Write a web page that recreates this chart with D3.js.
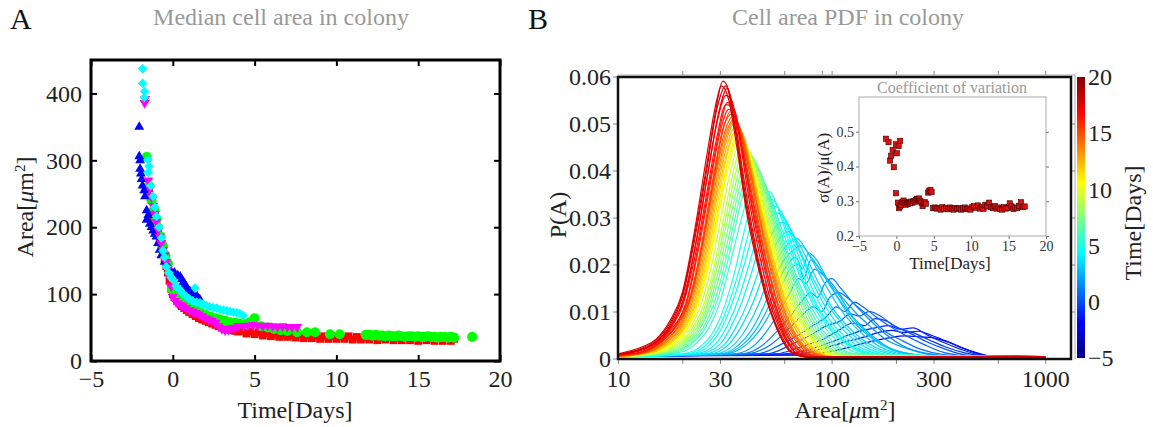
<!DOCTYPE html>
<html>
<head>
<meta charset="utf-8">
<script src="https://cdn.jsdelivr.net/npm/d3@7"></script>
<style>
body { margin: 0; background: #fff; }
svg { display: block; font-family: "Liberation Serif", "DejaVu Serif", serif; }
</style>
</head>
<body>
<svg id="fig" width="1153" height="427"></svg>
<script>
// ---- Panel A: median cell area, five colonies ----
const redT = [-1.45,-1.35,-1.3,-1.2,-1.1,-1.0,-0.9,-0.8,-0.7,-0.6,-0.5,-0.4,-0.3,-0.2,-0.1,0.0,0.1,0.25,0.4,0.55,0.7,0.85,1.0,1.2,1.4,1.6,1.8,2.0,2.2,2.4,2.6,2.8,3.0,3.2,3.4,3.6,3.8,4.0,4.25,4.5,4.75,5.0,5.25,5.5,5.75,6.0,6.25,6.5,6.75,7.0,7.25,7.5,7.75,8.0,8.25,8.5,8.75,9.0,9.25,9.5,9.75,10.0,10.25,10.5,10.75,11.0,11.25,11.5,11.75,12.0,12.25,12.5,12.75,13.0,13.25,13.5,13.75,14.0,14.25,14.5,14.75,15.0,15.25,15.5,15.75,16.0,16.25,16.5,16.75,17.0,17.2];
const redA = [258,245,212,220,225,205,195,182,175,165,152,142,132,120,108,100,95,90,86,82,79,76,73,70,67,64,62,60,58,56,54,52,50,49,47,46,45,44,45,41,44,40,43,38,42,37,41,36,40,36,39,35,39,34,38,34,38,33,37,33,37,33,36,33,37,32,36,32,36,32,36,31,35,32,36,31,35,31,35,31,35,30,35,31,34,30,34,30,34,30,33];

const greenT = [-1.6,-1.45,-1.3,-1.15,-1.0,-0.9,-0.75,-0.6,-0.45,-0.3,-0.15,-0.05,0.1,0.3,0.5,0.8,1.1,1.4,1.7,2.0,2.3,2.6,2.9,3.2,3.5,3.8,4.1,4.4,4.7,5.0,5.4,5.8,6.2,6.6,7.0,7.6,8.2,8.7,9.6,10.2,11.8,12.0,12.2,12.4,12.6,12.8,13.0,13.2,13.4,13.6,13.8,14.0,14.2,14.4,14.6,14.8,15.0,15.2,15.4,15.6,15.8,16.0,16.2,16.4,16.6,16.8,17.0,17.2,18.3];
const greenA = [305,262,240,226,212,200,186,172,158,146,130,108,100,94,90,84,80,76,72,69,66,64,62,60,58,57,56,55,58,64,52,50,48,46,45,43,43,43,40,40,39,39,38,39,38,38,37,38,37,37,38,37,36,37,37,36,37,36,36,37,36,36,35,36,36,35,36,35,36];

const blueT = [-2.05,-2.05,-2.0,-2.0,-1.95,-1.9,-1.85,-1.75,-1.7,-1.6,-1.6,-1.5,-1.4,-1.3,-1.2,-1.1,-1.0,-0.9,-0.8,-0.7,-0.5,-0.2,0.1,0.3,0.45,0.55,0.65,0.75,0.85,0.95,1.05,1.2,1.35,1.5,1.65];
const blueA = [350,306,300,287,280,272,262,255,246,225,211,218,205,200,195,190,186,176,166,158,148,138,132,128,126,122,118,114,110,106,104,100,98,96,92];

const magT = [-1.72,-1.68,-1.5,-1.4,-1.3,-1.2,-1.1,-1.0,-0.9,-0.8,-0.7,-0.6,-0.5,-0.4,-0.3,-0.2,-0.1,0.0,0.15,0.3,0.45,0.6,0.8,1.0,1.2,1.4,1.6,1.8,2.0,2.2,2.4,2.6,2.8,3.0,3.2,3.4,3.6,3.8,4.0,4.3,4.6,4.9,5.2,5.5,5.8,6.1,6.4,6.7,7.0,7.3,7.6];
const magA = [386,392,270,258,245,232,220,208,196,186,176,166,158,148,138,126,112,96,90,86,84,82,79,76,74,72,70,67,64,62,60,57,52,48,46,47,49,50,52,52,53,54,53,52,53,52,51,52,51,51,51];

const cyanT = [-1.84,-1.84,-1.72,-1.74,-1.5,-1.45,-1.5,-1.35,-1.2,-1.1,-1.0,-0.85,-0.7,-0.6,-0.5,-0.4,-0.25,-0.1,0.03,0.2,0.44,0.6,0.8,1.0,1.2,1.36,1.45,1.66,1.85,2.05,2.25,2.45,2.68,2.9,3.1,3.3,3.5,3.7,3.9,4.1,4.3];
const cyanA = [437,415,403,394,301,291,282,262,246,230,216,200,184,165,155,141,132,125,121,112,106,101,97,93,90,109,88,87,85,83,81,80,79,77,76,75,74,73,72,71,68];

const xTicksA = [-5, 0, 5, 10, 15, 20];
const yTicksA = [0, 100, 200, 300, 400];

// ---- Panel B: area PDF, one curve per time point (days) ----
const pdfTimes = [-2,-1.5,-1,-0.5,0,0.5,1,1.5,2,2.5,3,3.5,4,4.5,5,5.5,6,7,8,9,10,11,12,13,14,15,16,16.5,17,17.5,18,
  17.8,17.2,16.2,15.5,14.5,13.5,12.5,11.5,10.5,9.5,8.5,7.5,6.5,4.75,4.25,3.75,3.25,2.75];
const pdfCurves = [
  [[10,.0005],[70,.0007],[100,.0015],[130,.0028],[160,.0038],[190,.0045],[220,.0048],[260,.0046],[300,.0044],[350,.0035],[410,.0022],[480,.0012],[560,.0005],[1000,.0004]],
  [[10,.0005],[65,.0008],[90,.002],[115,.0035],[140,.0045],[165,.0055],[190,.006],[220,.0055],[255,.0058],[290,.005],[340,.0038],[400,.0025],[470,.0012],[560,.0005],[1000,.0004]],
  [[10,.0005],[60,.001],[80,.002],[100,.0035],[120,.005],[140,.006],[160,.0065],[185,.007],[210,.0062],[240,.0065],[280,.005],[330,.0035],[400,.002],[480,.0009],[600,.0005],[1000,.0004]],
  [[10,.0005],[55,.001],[72,.0025],[90,.004],[108,.006],[125,.0075],[142,.007],[160,.0085],[180,.008],[205,.0065],[240,.0055],[285,.004],[340,.0025],[420,.0012],[550,.0005],[1000,.0004]],
  [[10,.0005],[50,.001],[65,.003],[80,.005],[95,.007],[110,.008],[122,.0095],[135,.009],[150,.010],[170,.009],[195,.007],[230,.0055],[280,.0035],[340,.002],[420,.0008],[550,.0005],[1000,.0004]],
  [[10,.0005],[45,.001],[58,.003],[70,.005],[82,.007],[95,.009],[105,.011],[115,.010],[128,.012],[140,.011],[160,.009],[185,.007],[220,.005],[270,.003],[340,.0012],[450,.0005],[1000,.0004]],
  [[10,.0005],[40,.001],[52,.003],[62,.006],[72,.009],[82,.011],[90,.010],[98,.013],[108,.014],[118,.013],[132,.011],[150,.009],[175,.006],[210,.004],[260,.002],[340,.0008],[450,.0005],[1000,.0004]],
  [[10,.0005],[38,.001],[48,.003],[56,.006],[64,.009],[72,.012],[80,.014],[86,.013],[93,.016],[100,.017],[110,.015],[125,.012],[145,.009],[170,.006],[210,.003],[270,.0012],[380,.0005],[1000,.0004]],
  [[10,.0005],[35,.001],[44,.003],[50,.006],[57,.010],[64,.014],[70,.017],[76,.016],[83,.019],[90,.018],[100,.016],[112,.013],[128,.010],[150,.007],[180,.004],[230,.002],[320,.0006],[1000,.0004]],
  [[10,.0005],[32,.001],[40,.003],[46,.006],[52,.010],[58,.015],[64,.019],[70,.020],[74,.017],[80,.021],[88,.019],[98,.016],[110,.013],[125,.009],[145,.006],[175,.003],[220,.0012],[300,.0005],[1000,.0004]],
  [[10,.0005],[30,.001],[37,.003],[42,.006],[48,.011],[54,.017],[60,.021],[66,.023],[72,.024],[79,.022],[88,.019],[100,.015],[115,.011],[135,.007],[160,.004],[200,.0015],[280,.0005],[1000,.0004]],
  [[10,.0005],[27,.001],[33,.003],[38,.007],[43,.012],[48,.018],[53,.023],[58,.026],[63,.027],[69,.025],[77,.021],[87,.016],[100,.011],[118,.007],[140,.004],[180,.0015],[250,.0005],[1000,.0004]],
  [[10,.0005],[24,.001],[30,.003],[34,.007],[38,.012],[42,.018],[46,.024],[50,.029],[55,.031],[60,.030],[66,.026],[75,.020],[86,.014],[100,.009],[120,.005],[160,.0015],[220,.0005],[1000,.0004]],
  [[10,.0004],[22,.001],[27,.003],[31,.007],[35,.013],[39,.020],[43,.027],[47,.032],[51,.034],[55,.033],[61,.028],[69,.021],[80,.014],[95,.008],[115,.004],[150,.0012],[200,.0004],[1000,.0003]],
  [[10,.0004],[20,.001],[25,.003],[29,.007],[32,.012],[35,.018],[38,.025],[41,.031],[44,.035],[47,.037],[51,.035],[57,.029],[65,.022],[75,.015],[88,.009],[110,.004],[150,.001],[1000,.0003]],
  [[10,.0004],[19,.0012],[23,.003],[27,.007],[30,.012],[33,.019],[36,.026],[39,.032],[42,.037],[45,.039],[49,.037],[55,.030],[62,.023],[72,.015],[85,.009],[105,.004],[140,.001],[1000,.0003]],
  [[10,.0004],[18,.0012],[22,.003],[26,.007],[29,.012],[32,.019],[35,.027],[38,.034],[41,.039],[44,.041],[48,.038],[53,.032],[60,.024],[69,.016],[80,.010],[97,.0045],[130,.001],[1000,.0003]],
  [[10,.0004],[17,.0012],[21,.003],[24,.006],[27,.011],[30,.018],[33,.026],[36,.034],[39,.040],[42,.043],[46,.040],[51,.033],[58,.024],[67,.016],[78,.009],[95,.0035],[125,.0008],[1000,.0003]],
  [[10,.0004],[16,.0012],[20,.003],[23,.006],[26,.011],[29,.019],[32,.028],[35,.036],[38,.042],[41,.044],[45,.040],[50,.033],[57,.023],[65,.015],[76,.008],[92,.003],[120,.0006],[1000,.0003]],
  [[10,.0004],[15,.0012],[19,.003],[22,.006],[25,.011],[28,.019],[31,.029],[34,.038],[37,.044],[40,.045],[44,.040],[49,.032],[56,.022],[64,.014],[75,.007],[90,.0025],[115,.0005],[1000,.0003]],
  [[10,.0004],[15,.0014],[18,.003],[21,.006],[24,.012],[27,.021],[30,.032],[33,.041],[36,.046],[40,.045],[44,.039],[49,.030],[56,.020],[64,.012],[75,.006],[90,.002],[110,.0004],[1000,.0003]],
  [[10,.0004],[15,.0015],[18,.0035],[21,.007],[24,.013],[27,.023],[30,.034],[33,.043],[36,.047],[39,.046],[43,.039],[48,.030],[55,.019],[63,.011],[73,.005],[88,.0015],[110,.0003],[1000,.0003]],
  [[10,.0004],[14,.0012],[17,.003],[20,.006],[23,.012],[26,.022],[29,.034],[32,.043],[35,.048],[38,.048],[42,.041],[47,.031],[54,.020],[62,.011],[72,.005],[86,.0015],[105,.0003],[1000,.0003]],
  [[10,.0005],[14,.0014],[17,.0035],[20,.007],[23,.014],[26,.025],[29,.037],[32,.046],[35,.050],[38,.048],[42,.040],[47,.029],[54,.018],[62,.009],[72,.0035],[86,.001],[100,.0003],[1000,.0003]],
  [[10,.0005],[14,.0015],[17,.004],[20,.008],[23,.016],[26,.028],[29,.040],[32,.048],[35,.051],[38,.048],[42,.039],[47,.028],[53,.018],[61,.009],[71,.0035],[85,.001],[100,.0003],[1000,.0003]],
  [[10,.0006],[13,.0012],[16,.0035],[19,.0075],[22,.014],[25,.026],[28,.039],[31,.049],[34,.052],[37,.049],[41,.040],[46,.028],[52,.017],[60,.008],[70,.003],[82,.0008],[100,.0003],[1000,.0003]],
  [[10,.0006],[13,.0014],[16,.0038],[18,.0065],[21,.012],[24,.024],[27,.037],[30,.048],[33,.053],[36,.050],[40,.040],[45,.028],[50,.018],[57,.009],[65,.0035],[75,.001],[90,.0003],[1000,.0003]],
  [[10,.0007],[13,.0015],[16,.004],[18,.007],[20,.011],[23,.022],[26,.035],[29,.047],[32,.054],[35,.053],[38,.045],[42,.033],[48,.020],[55,.010],[62,.004],[72,.001],[85,.0003],[1000,.0003]],
  [[10,.0008],[13,.0018],[15,.0032],[17.5,.0065],[20,.012],[23,.024],[26,.038],[29,.050],[32,.056],[34,.055],[37,.047],[41,.034],[47,.020],[53,.011],[60,.005],[68,.0012],[80,.0003],[1000,.0003]],
  [[10,.001],[13,.0025],[15,.004],[17.5,.008],[20,.014],[23,.028],[26,.043],[29,.055],[31,.059],[33,.057],[36,.047],[40,.033],[46,.019],[52,.010],[58,.005],[66,.0012],[80,.0003],[1000,.0003]],
  [[10,.0009],[13,.002],[15,.0035],[17.5,.007],[20,.013],[23,.026],[26,.040],[29,.053],[32,.058],[35,.050],[39,.035],[45,.021],[50,.012],[56,.006],[64,.0015],[75,.0004],[1000,.0003]],
  [[10,.0009],[13,.0022],[15,.0038],[17.5,.0075],[20,.0135],[23,.027],[26,.041],[28.5,.052],[30.5,.058],[33,.055],[36,.045],[40,.031],[45,.020],[51,.011],[57,.005],[65,.0013],[78,.0003],[1000,.0003]],
  [[10,.0008],[13,.0019],[15.5,.0038],[18,.0075],[20.5,.013],[23.5,.026],[26.5,.040],[29.5,.052],[32.5,.0575],[35,.052],[38,.041],[42,.029],[47,.018],[53,.010],[60,.0045],[69,.001],[82,.0003],[1000,.0003]],
  [[10,.0006],[13,.0014],[16,.0037],[18.5,.0068],[21,.0125],[24,.025],[27,.038],[30,.049],[32.5,.0545],[35.5,.052],[39,.042],[44,.029],[50,.018],[57,.0085],[65,.0032],[76,.0009],[90,.0003],[1000,.0003]],
  [[10,.0006],[13,.0013],[16,.0036],[19,.0072],[22,.0135],[25,.025],[28,.038],[31,.0485],[33.5,.0525],[36.5,.050],[40,.041],[45,.029],[51,.018],[58,.009],[67,.0032],[79,.0009],[95,.0003],[1000,.0003]],
  [[10,.0005],[13.5,.0013],[16.5,.0037],[19.5,.0075],[22.5,.015],[25.5,.027],[28.5,.039],[31.5,.048],[34.5,.0515],[37.5,.0485],[41.5,.040],[46.5,.0285],[52.5,.0178],[60,.009],[70,.0035],[83,.001],[100,.0003],[1000,.0003]],
  [[10,.0005],[14,.0014],[17,.0037],[20,.0075],[23,.015],[26,.0265],[29,.0385],[32,.047],[35,.0505],[38,.048],[42,.0395],[47,.0285],[53.5,.018],[61.5,.009],[71.5,.0035],[85,.001],[100,.0003],[1000,.0003]],
  [[10,.0004],[14,.0013],[17,.0032],[20,.0065],[23,.013],[26,.0235],[29,.0355],[32,.0445],[35,.049],[38,.048],[42,.0405],[47,.030],[54,.019],[62,.010],[72,.0043],[86,.0012],[103,.0003],[1000,.0003]],
  [[10,.0004],[14.5,.0013],[17.5,.0032],[20.5,.0065],[23.5,.0125],[26.5,.0225],[29.5,.034],[32.5,.0435],[35.5,.0478],[38.5,.047],[42.5,.040],[47.5,.0305],[54.5,.0195],[62.5,.0105],[72.5,.0048],[87,.0014],[108,.0003],[1000,.0003]],
  [[10,.0004],[15,.0014],[18,.0032],[21,.0065],[24,.0125],[27,.022],[30,.033],[33,.042],[36,.0465],[39.5,.0455],[43.5,.039],[48.5,.030],[55.5,.0195],[63.5,.0115],[74,.0055],[89,.0018],[110,.0004],[1000,.0003]],
  [[10,.0003],[15,.0013],[18.5,.003],[21.5,.006],[24.5,.0115],[27.5,.020],[30.5,.0305],[33.5,.0395],[36.5,.045],[40,.045],[44,.0395],[49,.031],[56,.021],[64,.013],[75,.0065],[90,.0022],[112,.0005],[1000,.0003]],
  [[10,.0003],[15.5,.0012],[19.5,.003],[22.5,.006],[25.5,.011],[28.5,.019],[31.5,.0285],[34.5,.037],[37.5,.043],[40.5,.0445],[44.5,.040],[49.5,.0325],[56.5,.0225],[64.5,.0145],[75.5,.0075],[91,.0028],[118,.0006],[1000,.0003]],
  [[10,.0003],[16.5,.0012],[20.5,.003],[23.5,.006],[26.5,.011],[29.5,.0185],[32.5,.027],[35.5,.035],[38.5,.041],[41.5,.0435],[45.5,.040],[50.5,.033],[57.5,.0235],[66,.0155],[77,.0085],[93,.0032],[122,.0007],[1000,.0003]],
  [[10,.0003],[17.5,.0012],[21.5,.003],[25,.0065],[28,.0115],[31,.0185],[34,.0265],[37,.034],[40,.0395],[43,.042],[47,.039],[52,.0325],[59,.024],[68,.016],[79,.0095],[96,.004],[128,.0009],[1000,.0003]],
  [[10,.0004],[21,.001],[26,.003],[30,.007],[33.5,.0125],[37,.019],[40.5,.026],[44,.0315],[48,.035],[51.5,.0355],[56,.032],[63,.025],[72,.0175],[85,.011],[100,.006],[125,.0025],[170,.0006],[1000,.0003]],
  [[10,.0004],[23,.001],[28.5,.003],[32.5,.007],[36.5,.0125],[40.5,.019],[44.5,.0255],[48.5,.0305],[53,.0325],[57.5,.0315],[63.5,.027],[72,.0205],[83,.014],[97,.0085],[117,.0045],[155,.0013],[210,.0004],[1000,.0003]],
  [[10,.0005],[25.5,.001],[31.5,.003],[36,.007],[40.5,.012],[45,.018],[49.5,.0235],[54,.0275],[59,.029],[64.5,.0275],[71,.023],[80,.018],[93,.0125],[109,.008],[130,.0045],[170,.0015],[235,.0005],[1000,.0004]],
  [[10,.0005],[28.5,.001],[35,.003],[40,.0065],[45.5,.0115],[51,.0175],[57,.022],[63,.0245],[69,.0255],[75,.0235],[83,.020],[94,.0155],[108,.011],[127,.007],[150,.004],[190,.0015],[265,.0005],[1000,.0004]],
  [[10,.0005],[31,.001],[38.5,.003],[44,.006],[50,.0105],[56,.016],[62,.020],[68,.0215],[73,.019],[78,.0225],[85,.021],[95,.017],[108,.0125],[123,.0085],[143,.0055],[170,.003],[220,.0012],[300,.0005],[1000,.0004]]
];
const xTicksB = [10, 30, 100, 300, 1000];
const xMinorB = [10, 20, 30, 60, 100, 200, 300, 600, 1000];
const xTopB = [20, 30, 60, 90, 100, 200, 300, 600, 1000];
const yTicksB = [0, 0.01, 0.02, 0.03, 0.04, 0.05, 0.06];
const cbTicks = [-5, 0, 5, 10, 15, 20];

// ---- Inset: coefficient of variation ----
const cvT = [-1.4,-1.05,-0.85,-0.7,-0.5,-0.35,-0.05,0.05,0.3,0.5,-0.05,0.2,0.35,0.5,0.65,0.8,0.95,1.1,1.25,1.4,1.55,1.7,1.85,2.0,2.15,2.3,2.45,2.6,2.75,2.9,3.05,3.2,3.35,3.5,3.65,3.8,3.95,4.25,4.4,4.55,4.7,
  4.9,5.15,5.4,5.65,5.9,6.15,6.4,6.65,6.9,7.15,7.4,7.65,7.9,8.15,8.4,8.65,8.9,9.15,9.4,9.65,9.9,10.15,10.4,10.65,10.9,11.15,11.4,11.65,11.9,12.15,12.4,12.65,12.9,13.15,13.4,13.65,13.9,14.15,14.4,14.65,14.9,15.15,15.4,15.65,15.9,16.15,16.4,16.65,16.9,17.15];
const cvV = [0.48,0.47,0.417,0.431,0.448,0.398,0.464,0.438,0.459,0.474,0.323,0.296,0.28,0.285,0.29,0.298,0.302,0.295,0.29,0.296,0.292,0.297,0.294,0.299,0.296,0.301,0.298,0.303,0.307,0.305,0.308,0.3,0.296,0.286,0.294,0.297,0.293,0.325,0.33,0.333,0.326,
  0.28,0.282,0.279,0.281,0.276,0.283,0.278,0.28,0.277,0.282,0.279,0.276,0.281,0.278,0.28,0.276,0.279,0.282,0.277,0.279,0.276,0.283,0.286,0.281,0.288,0.279,0.284,0.278,0.29,0.285,0.296,0.283,0.28,0.286,0.279,0.282,0.278,0.276,0.283,0.279,0.281,0.294,0.285,0.278,0.282,0.28,0.287,0.297,0.283,0.285];
const xTicksI = [-5, 0, 5, 10, 15, 20];
const yTicksI = [0.2, 0.3, 0.4, 0.5];

const svg = d3.select('#fig');
const grey = '#999';

// jet colormap over the colorbar range
const jetStops = [0, 0.125, 0.375, 0.625, 0.875, 1];
const jetColors = ['#00007f', '#0000ff', '#00ffff', '#ffff00', '#ff0000', '#7f0000'];
const tNorm = d3.scaleLinear().domain([-5, 20]).range([0, 1]);
const jetN = d3.scaleLinear().domain(jetStops).range(jetColors).clamp(true);
const jet = t => jetN(tNorm(t));

function styleTicks(g, color, width) {
  g.select('.domain').remove();
  g.selectAll('.tick line').attr('stroke', color).attr('stroke-width', width);
}

// ================= Panel A =================
const xA = d3.scaleLinear().domain([-5, 20]).range([91, 500]);
const yA = d3.scaleLinear().domain([0, 450]).range([361, 60]);
const gA = svg.append('g');

gA.append('g').attr('transform', 'translate(0,361)')
  .call(d3.axisBottom(xA).tickValues(xTicksA).tickSize(-6).tickPadding(9))
  .call(g => styleTicks(g, '#000', 2))
  .selectAll('text').attr('font-size', 24).attr('fill', '#222').attr('font-family', 'Liberation Serif');
gA.append('g').attr('transform', 'translate(0,60)')
  .call(d3.axisTop(xA).tickValues(xTicksA).tickSize(-6).tickFormat(''))
  .call(g => styleTicks(g, '#000', 2));
gA.append('g').attr('transform', 'translate(91,0)')
  .call(d3.axisLeft(yA).tickValues(yTicksA).tickSize(-6).tickPadding(9))
  .call(g => styleTicks(g, '#000', 2))
  .selectAll('text').attr('font-size', 24).attr('fill', '#222').attr('font-family', 'Liberation Serif');
gA.append('g').attr('transform', 'translate(500,0)')
  .call(d3.axisRight(yA).tickValues(yTicksA).tickSize(-6).tickFormat(''))
  .call(g => styleTicks(g, '#000', 2));

const seriesA = [
  { t: redT, a: redA, color: '#ff0000', sym: d3.symbolSquare, size: 60, rot: 0 },
  { t: greenT, a: greenA, color: '#00ff00', sym: d3.symbolCircle, size: 80, rot: 0 },
  { t: blueT, a: blueA, color: '#0000ff', sym: d3.symbolTriangle, size: 42, rot: 0 },
  { t: magT, a: magA, color: '#ff00ff', sym: d3.symbolTriangle, size: 44, rot: 180 },
  { t: cyanT, a: cyanA, color: '#00ffff', sym: d3.symbolSquare, size: 46, rot: 45 }
];
seriesA.forEach(s => {
  gA.append('g').selectAll('path')
    .data(d3.zip(s.t, s.a))
    .join('path')
    .attr('d', d3.symbol().type(s.sym).size(s.size))
    .attr('transform', d => `translate(${xA(d[0])},${yA(d[1])}) rotate(${s.rot})`)
    .attr('fill', s.color);
});

gA.append('rect').attr('x', 91).attr('y', 60).attr('width', 409).attr('height', 301)
  .attr('fill', 'none').attr('stroke', '#000').attr('stroke-width', 3);

gA.append('text').attr('x', 295).attr('y', 418).attr('text-anchor', 'middle')
  .attr('font-size', 24).attr('fill', '#222').text('Time[Days]');
gA.append('text').attr('transform', 'translate(33,207) rotate(-90)').attr('text-anchor', 'middle')
  .attr('font-size', 24).attr('fill', '#222')
  .html('Area[<tspan font-style="italic">μ</tspan>m<tspan baseline-shift="super" font-size="15">2</tspan>]');
svg.append('text').attr('x', 10).attr('y', 29).attr('font-size', 30).attr('fill', '#111').text('A');
svg.append('text').attr('x', 281).attr('y', 25).attr('text-anchor', 'middle')
  .attr('font-size', 24).attr('fill', grey).text('Median cell area in colony');

// ================= Panel B =================
const xB = d3.scaleLog().domain([10, 1320]).range([618, 1071]);
const yB = d3.scaleLinear().domain([0, 0.06]).range([358.5, 76.5]);
const gB = svg.append('g');

svg.append('defs').append('clipPath').attr('id', 'clipB')
  .append('rect').attr('x', 618).attr('y', 77).attr('width', 453).attr('height', 281);

// grey outer spine (top and right) with ticks
gB.append('path').attr('d', 'M618,75H1075V359').attr('fill', 'none').attr('stroke', '#aaa').attr('stroke-width', 1);
gB.append('g').attr('transform', 'translate(0,75)')
  .call(d3.axisTop(xB).tickValues(xTopB).tickSize(4).tickFormat(''))
  .call(g => styleTicks(g, '#888', 1));
gB.append('g').attr('transform', 'translate(1075,0)')
  .call(d3.axisLeft(yB).tickValues(yTicksB.slice(1, 6)).tickSize(4).tickFormat(''))
  .call(g => styleTicks(g, '#888', 1));

gB.append('g').attr('transform', 'translate(0,360)')
  .call(d3.axisBottom(xB).tickValues(xMinorB).tickSize(4).tickFormat(''))
  .call(g => styleTicks(g, '#888', 1));
gB.append('g').attr('transform', 'translate(0,360)')
  .call(d3.axisBottom(xB).tickValues(xTicksB).tickSize(0).tickPadding(10).tickFormat(d3.format('d')))
  .call(g => g.select('.domain').remove())
  .selectAll('text').attr('font-size', 24).attr('fill', '#222').attr('font-family', 'Liberation Serif');
gB.append('g').attr('transform', 'translate(617,0)')
  .call(d3.axisLeft(yB).tickValues(yTicksB).tickSize(4).tickPadding(2)
    .tickFormat(d => d === 0 ? '0' : d3.format('.2f')(d)))
  .call(g => styleTicks(g, '#888', 1))
  .selectAll('text').attr('font-size', 24).attr('fill', '#222').attr('font-family', 'Liberation Serif');

const line = d3.line().x(d => xB(d[0])).y(d => yB(d[1])).curve(d3.curveMonotoneX);
const curvesByTime = d3.sort(d3.zip(pdfTimes, pdfCurves), d => d[0]);
gB.append('g').attr('clip-path', 'url(#clipB)')
  .selectAll('path')
  .data(curvesByTime)
  .join('path')
  .attr('d', d => line(d[1]))
  .attr('fill', 'none')
  .attr('stroke', d => jet(d[0]))
  .attr('stroke-width', 1.2)
  .attr('stroke-linejoin', 'round');

gB.append('rect').attr('x', 618).attr('y', 77).attr('width', 453).attr('height', 282)
  .attr('fill', 'none').attr('stroke', '#111').attr('stroke-width', 2.5);

gB.append('text').attr('x', 845).attr('y', 418).attr('text-anchor', 'middle')
  .attr('font-size', 24).attr('fill', '#222')
  .html('Area[<tspan font-style="italic">μ</tspan>m<tspan baseline-shift="super" font-size="15">2</tspan>]');
gB.append('text').attr('transform', 'translate(566,215) rotate(-90)').attr('text-anchor', 'middle')
  .attr('font-size', 24).attr('fill', '#222').text('P(A)');
svg.append('text').attr('x', 528).attr('y', 29).attr('font-size', 30).attr('fill', '#111').text('B');
svg.append('text').attr('x', 848).attr('y', 25).attr('text-anchor', 'middle')
  .attr('font-size', 24).attr('fill', grey).text('Cell area PDF in colony');

// colorbar
const cb = d3.scaleLinear().domain([-5, 20]).range([358, 77]);
const grad = svg.select('defs').append('linearGradient').attr('id', 'jetGrad')
  .attr('x1', 0).attr('y1', 1).attr('x2', 0).attr('y2', 0);
grad.selectAll('stop').data(jetStops).join('stop')
  .attr('offset', d => d).attr('stop-color', (d, i) => jetColors[i]);
svg.append('rect').attr('x', 1077).attr('y', 77).attr('width', 8).attr('height', 281).attr('fill', 'url(#jetGrad)');
svg.append('g').attr('transform', 'translate(1085,0)')
  .call(d3.axisRight(cb).tickValues(cbTicks).tickSize(0).tickPadding(3))
  .call(g => g.select('.domain').remove())
  .selectAll('text').attr('font-size', 24).attr('fill', '#222').attr('font-family', 'Liberation Serif');
svg.append('text').attr('transform', 'translate(1141,223) rotate(-90)').attr('text-anchor', 'middle')
  .attr('font-size', 24).attr('fill', '#222').text('Time[Days]');

// ================= Inset =================
const xI = d3.scaleLinear().domain([-5, 20]).range([859, 1046]);
const yI = d3.scaleLinear().domain([0.2, 0.6]).range([236, 97]);
const gI = svg.append('g');
gI.append('rect').attr('x', 859).attr('y', 97).attr('width', 187).attr('height', 139)
  .attr('fill', '#fff').attr('stroke', '#aaa').attr('stroke-width', 1);
gI.append('g').attr('transform', 'translate(0,236)')
  .call(d3.axisBottom(xI).tickValues(xTicksI).tickSize(3).tickPadding(2))
  .call(g => styleTicks(g, '#777', 1))
  .selectAll('text').attr('font-size', 14).attr('fill', '#333').attr('font-family', 'Liberation Serif');
gI.append('g').attr('transform', 'translate(859,0)')
  .call(d3.axisLeft(yI).tickValues(yTicksI).tickSize(3).tickPadding(2).tickFormat(d3.format('.1f')))
  .call(g => styleTicks(g, '#777', 1))
  .selectAll('text').attr('font-size', 14).attr('fill', '#333').attr('font-family', 'Liberation Serif');
gI.append('g').attr('transform', 'translate(1046,0)')
  .call(d3.axisRight(yI).tickValues(yTicksI).tickSize(3).tickFormat(''))
  .call(g => styleTicks(g, '#777', 1));

gI.append('g').selectAll('rect')
  .data(d3.zip(cvT, cvV))
  .join('rect')
  .attr('x', d => xI(d[0]) - 2.6).attr('y', d => yI(d[1]) - 2.6)
  .attr('width', 5.2).attr('height', 5.2)
  .attr('fill', '#dd1010').attr('stroke', '#3a0000').attr('stroke-width', 0.6);

gI.append('text').attr('x', 952).attr('y', 93).attr('text-anchor', 'middle')
  .attr('font-size', 16).attr('fill', grey).text('Coefficient of variation');
gI.append('text').attr('x', 950).attr('y', 269).attr('text-anchor', 'middle')
  .attr('font-size', 17).attr('fill', '#222').text('Time[Days]');
gI.append('text').attr('transform', 'translate(829,168) rotate(-90)').attr('text-anchor', 'middle')
  .attr('font-size', 17).attr('fill', '#222').text('σ(A)/μ(A)');
</script>
</body>
</html>
